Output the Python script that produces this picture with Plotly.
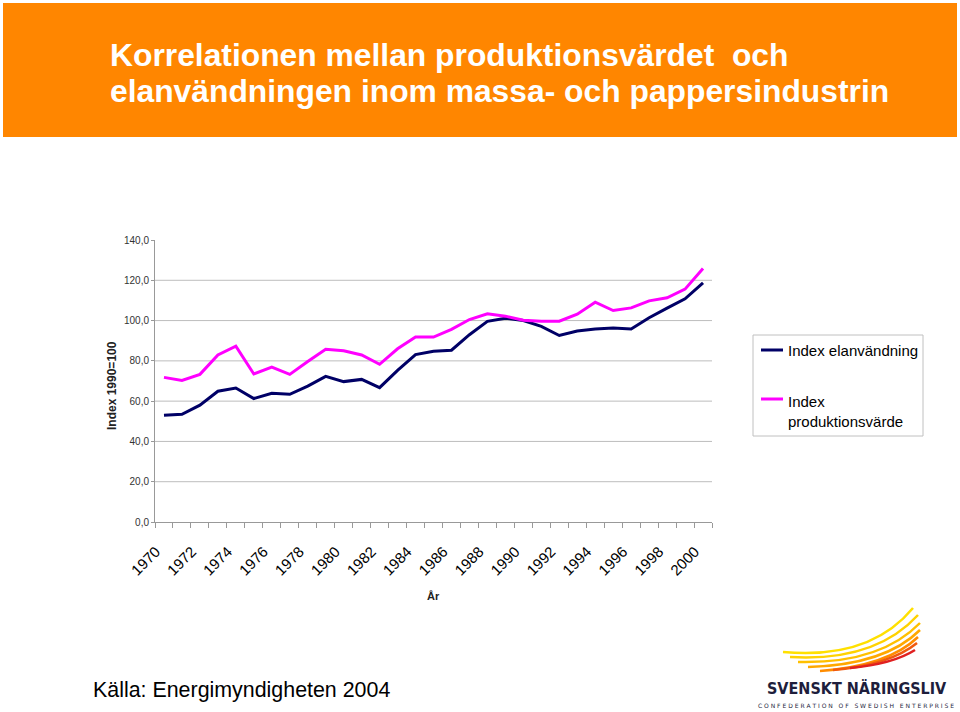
import plotly.graph_objects as go

years = list(range(1970, 2001))
elanvandning = [53.0, 53.5, 58.0, 64.9, 66.5, 61.3, 63.9, 63.4, 67.5, 72.3,
                69.7, 70.8, 66.7, 75.3, 83.1, 84.8, 85.3, 93.0, 99.6, 101.2,
                100.0, 97.1, 92.6, 94.8, 95.8, 96.3, 95.8, 101.4, 106.2, 110.8, 118.7]
produktionsvarde = [71.8, 70.3, 73.3, 82.9, 87.3, 73.5, 76.9, 73.3, 79.7, 85.8,
                    85.0, 82.9, 78.3, 86.0, 91.8, 91.8, 95.6, 100.5, 103.4, 102.2,
                    100.2, 99.7, 99.7, 103.2, 109.1, 105.0, 106.3, 109.8, 111.3, 115.6, 125.8]
series_names = ["Index elanvändning", "Index<br>produktionsvärde"]
series_colors = ["#000066", "#FF00FF"]
tick_years = years[::2]
tick_labels = [str(y) for y in tick_years]
grid_values = [20, 40, 60, 80, 100, 120]

W, H = 960, 712
def px(x):
    return x / W
def py(y):
    return 1 - y / H

fig = go.Figure()
for vals, name, col in zip([elanvandning, produktionsvarde], series_names, series_colors):
    fig.add_trace(go.Scatter(x=years, y=vals, mode="lines", name=name,
                             line=dict(color=col, width=3), showlegend=False))

shapes = []
# header
shapes.append(dict(type="rect", xref="paper", yref="paper", x0=px(3), x1=px(957), y0=py(137), y1=py(3),
                   fillcolor="#FF8600", line=dict(width=0), layer="below"))
# gridlines
for v in grid_values:
    shapes.append(dict(type="line", xref="x domain", yref="y", x0=0, x1=1, y0=v, y1=v,
                       line=dict(color="#BDBDBD", width=1), layer="below"))

# legend box
shapes.append(dict(type="rect", xref="paper", yref="paper", x0=px(753), x1=px(923), y0=py(436), y1=py(335),
                   fillcolor="white", line=dict(color="#C0C0C0", width=1)))
legend_rows = [350, 399]
for yy, col in zip(legend_rows, series_colors):
    shapes.append(dict(type="line", xref="paper", yref="paper", x0=px(761), x1=px(783), y0=py(yy), y1=py(yy),
                       line=dict(color=col, width=3)))

# logo swoosh
feathers = [
    ((783, 652), (870, 660), (913, 608), "#FFE000"),
    ((790, 657), (875, 662), (918, 615), "#FFD200"),
    ((798, 662), (880, 664), (920, 623), "#FFC000"),
    ((808, 667), (885, 665), (920, 630), "#FFA800"),
    ((820, 671), (888, 666), (918, 637), "#FF8C00"),
    ((833, 670), (890, 665), (917, 643), "#F05A10"),
    ((850, 668), (893, 664), (915, 650), "#E02020"),
]
for (a, c, b, col) in feathers:
    path = "M {} {} Q {} {} {} {}".format(px(a[0]), py(a[1]), px(c[0]), py(c[1]), px(b[0]), py(b[1]))
    shapes.append(dict(type="path", xref="paper", yref="paper", path=path,
                       line=dict(color=col, width=2.5)))

annotations = [
    dict(text="<b>Korrelationen mellan produktionsvärdet  och</b>", x=px(108), y=py(55),
         xref="paper", yref="paper", xanchor="left", yanchor="middle", showarrow=False,
         font=dict(family="Liberation Sans, Arial", size=31.8, color="white")),
    dict(text="<b>elanvändningen inom massa- och pappersindustrin</b>", x=px(108), y=py(91),
         xref="paper", yref="paper", xanchor="left", yanchor="middle", showarrow=False,
         font=dict(family="Liberation Sans, Arial", size=31.8, color="white")),
    dict(text="<b>Index 1990=100</b>", x=px(112), y=py(386), xref="paper", yref="paper",
         textangle=-90, showarrow=False, xanchor="center", yanchor="middle",
         font=dict(family="Liberation Sans, Arial", size=12, color="#222")),
    dict(text="<b>År</b>", x=px(433), y=py(596), xref="paper", yref="paper", showarrow=False,
         xanchor="center", yanchor="middle",
         font=dict(family="Liberation Sans, Arial", size=11, color="#222")),
    dict(text="Källa: Energimyndigheten 2004", x=px(91), y=py(690), xref="paper", yref="paper",
         showarrow=False, xanchor="left", yanchor="middle",
         font=dict(family="Liberation Sans, Arial", size=21.4, color="black")),
    dict(text="<b>SVENSKT NÄRINGSLIV</b>", x=px(857), y=py(688), xref="paper", yref="paper",
         showarrow=False, xanchor="center", yanchor="middle",
         font=dict(family="DejaVu Sans Condensed, DejaVu Sans", size=16, color="#1E1E3C")),
    dict(text="C O N F E D E R A T I O N   O F   S W E D I S H   E N T E R P R I S E", x=px(856), y=py(705),
         xref="paper", yref="paper", showarrow=False, xanchor="center", yanchor="middle",
         font=dict(family="DejaVu Sans", size=6, color="#1E1E3C")),
    dict(text=series_names[0], x=px(786), y=py(350), xref="paper", yref="paper", showarrow=False,
         xanchor="left", yanchor="middle", font=dict(family="Liberation Sans, Arial", size=15, color="black")),
    dict(text=series_names[1], x=px(786), y=py(411), xref="paper", yref="paper", showarrow=False,
         xanchor="left", yanchor="middle", align="left",
         font=dict(family="Liberation Sans, Arial", size=15, color="black")),
]

fig.update_layout(
    width=W, height=H,
    margin=dict(l=0, r=0, t=0, b=0, autoexpand=False),
    paper_bgcolor="white", plot_bgcolor="white",
    separators=", ",
    font=dict(family="Liberation Sans, Arial"),
    shapes=shapes,
    annotations=annotations,
    showlegend=False,
    xaxis=dict(domain=[px(155), px(712)], range=[1969.5, 2000.5], automargin=False,
               tickmode="array", tickvals=[y - 0.45 for y in tick_years], ticktext=tick_labels,
               tickangle=-45, ticks="", showgrid=False, zeroline=False,
               showline=True, linecolor="#999999", linewidth=1,
               tickfont=dict(size=15, color="black"), ticklabelstandoff=14,
               minor=dict(ticks="outside", tick0=1969.5, dtick=1, ticklen=5,
                          tickcolor="#999999", showgrid=False)),
    yaxis=dict(domain=[py(522), py(240)], range=[0, 140], tickmode="linear", tick0=0, dtick=20,
               automargin=False, tickformat=".1f", showgrid=False, zeroline=False,
               showline=True, linecolor="#999999", linewidth=1, ticks="outside", ticklen=3,
               tickcolor="#999999",
               tickfont=dict(size=10, color="#333333")),
)

fig.write_html("out.html", config={"displayModeBar": False},
               post_script="document.body.style.margin='0';")
